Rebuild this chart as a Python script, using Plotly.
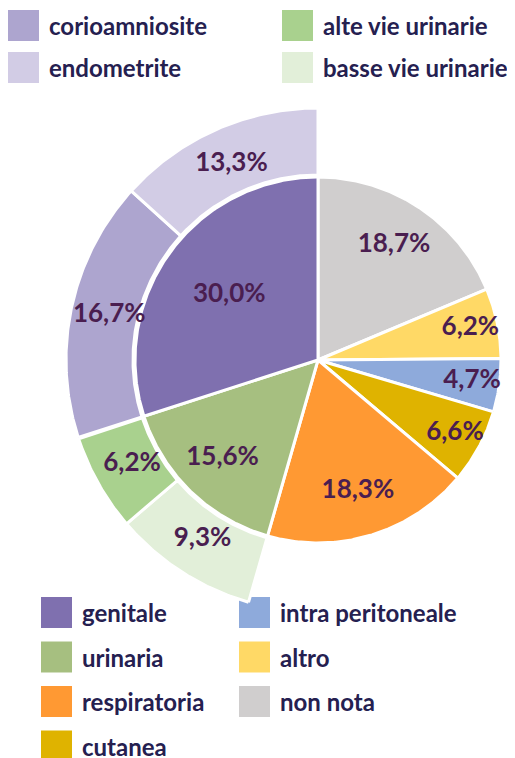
import math
import plotly.graph_objects as go

# ---------------- data ----------------
main_labels = ["non nota", "altro", "intra peritoneale", "cutanea",
               "respiratoria", "urinaria", "genitale"]
main_values = [18.7, 6.2, 4.7, 6.6, 18.3, 15.6, 30.0]
main_colors = ["#D0CECE", "#FFD966", "#8EAADB", "#DFB300",
               "#FF9933", "#A6BF80", "#7F70AF"]

# sub-categories (outer ring), listed clockwise
sub_labels = ["basse vie urinarie", "alte vie urinarie", "corioamniosite", "endometrite"]
sub_values = [9.3, 6.2, 16.7, 13.3]
sub_parent = ["urinaria", "urinaria", "genitale", "genitale"]
sub_colors = ["#E2EFD9", "#A9D18E", "#ADA5CF", "#D2CCE5"]

legend_top = ["corioamniosite", "alte vie urinarie", "endometrite", "basse vie urinarie"]
legend_bottom = ["genitale", "intra peritoneale", "urinaria", "altro",
                 "respiratoria", "non nota", "cutanea"]

# ---------------- layout constants ----------------
W, H = 515, 758
PAGE_OFF = 8          # default body margin of the html page
CX, CY = 318, 360
R = 183
R_IN2 = R + 2
R_OUT2 = 252
LABEL_COLOR = "#4A1E50"
LEGEND_COLOR = "#252050"
FONT = "Lato"

color_of = dict(zip(main_labels, main_colors))
color_of.update(dict(zip(sub_labels, sub_colors)))


def pt(r, ang):
    a = math.radians(ang)
    return CX + r * math.sin(a), CY - r * math.cos(a)


def sector(a0, a1, r_in, r_out):
    n = max(4, int(abs(a1 - a0) * 2))
    xs, ys = [], []
    for i in range(n + 1):
        x, y = pt(r_out, a0 + (a1 - a0) * i / n)
        xs.append(x); ys.append(y)
    if r_in <= 0:
        xs.append(CX); ys.append(CY)
    else:
        for i in range(n + 1):
            x, y = pt(r_in, a1 - (a1 - a0) * i / n)
            xs.append(x); ys.append(y)
    xs.append(xs[0]); ys.append(ys[0])
    return xs, ys


def fmt(v):
    return f"{v:.1f}%".replace(".", ",")


fig = go.Figure()

total = sum(main_values)
start = {}
ang = 0.0
lab_x, lab_y, lab_t = [], [], []
for lab, v, c in zip(main_labels, main_values, main_colors):
    w = v / total * 360
    start[lab] = (ang, ang + w)
    xs, ys = sector(ang, ang + w, 0, R)
    fig.add_trace(go.Scatter(x=xs, y=ys, fill="toself", fillcolor=c, mode="lines",
                             line=dict(color="white", width=3), hoverinfo="skip",
                             showlegend=False))
    rf = 0.6 if v >= 25 else (0.75 if v >= 10 else 0.85)
    x, y = pt(R * rf, ang + w / 2)
    lab_x.append(x); lab_y.append(y); lab_t.append(fmt(v))
    ang += w

# outer ring: fill each parent's span clockwise
cursor = {}
for lab, v, p, c in zip(sub_labels, sub_values, sub_parent, sub_colors):
    a0 = cursor.get(p, start[p][0])
    w = v / total * 360
    xs, ys = sector(a0, a0 + w, R_IN2, R_OUT2)
    fig.add_trace(go.Scatter(x=xs, y=ys, fill="toself", fillcolor=c, mode="lines",
                             line=dict(color="white", width=3), hoverinfo="skip",
                             showlegend=False))
    x, y = pt((R_IN2 + R_OUT2) / 2 - 5, a0 + w / 2)
    lab_x.append(x); lab_y.append(y); lab_t.append(fmt(v))
    cursor[p] = a0 + w

fig.add_trace(go.Scatter(x=lab_x, y=lab_y, text=lab_t, mode="text",
                         textfont=dict(family=FONT, size=26, color=LABEL_COLOR, weight="bold"),
                         hoverinfo="skip", showlegend=False))

# ---------------- legends ----------------
shapes, annos = [], []


def legend_block(names, x0, col_dx, y0, row_dy, sq):
    for i, name in enumerate(names):
        col, row = i % 2, i // 2
        x = x0 + col * col_dx
        yc = y0 + row * row_dy
        shapes.append(dict(type="rect", xref="x", yref="y", x0=x, x1=x + sq,
                           y0=yc - sq / 2, y1=yc + sq / 2, fillcolor=color_of[name],
                           line=dict(width=0), layer="below"))
        annos.append(dict(xref="x", yref="y", x=x + sq + 8, y=yc, text=name,
                          showarrow=False, xanchor="left", yanchor="middle",
                          font=dict(family=FONT, size=24, color=LEGEND_COLOR, weight="bold")))


legend_block(legend_top, 8, 274, 25.5, 42, 31)
legend_block(legend_bottom, 41, 198, 612.5, 44.5, 31)

fig.update_layout(
    width=W - PAGE_OFF, height=H - PAGE_OFF,
    margin=dict(l=0, r=0, t=0, b=0),
    paper_bgcolor="white", plot_bgcolor="white",
    xaxis=dict(range=[PAGE_OFF, W], visible=False, fixedrange=True),
    yaxis=dict(range=[H, PAGE_OFF], visible=False, fixedrange=True),
    shapes=shapes, annotations=annos,
    showlegend=False,
)

fig.write_html("out.html")
